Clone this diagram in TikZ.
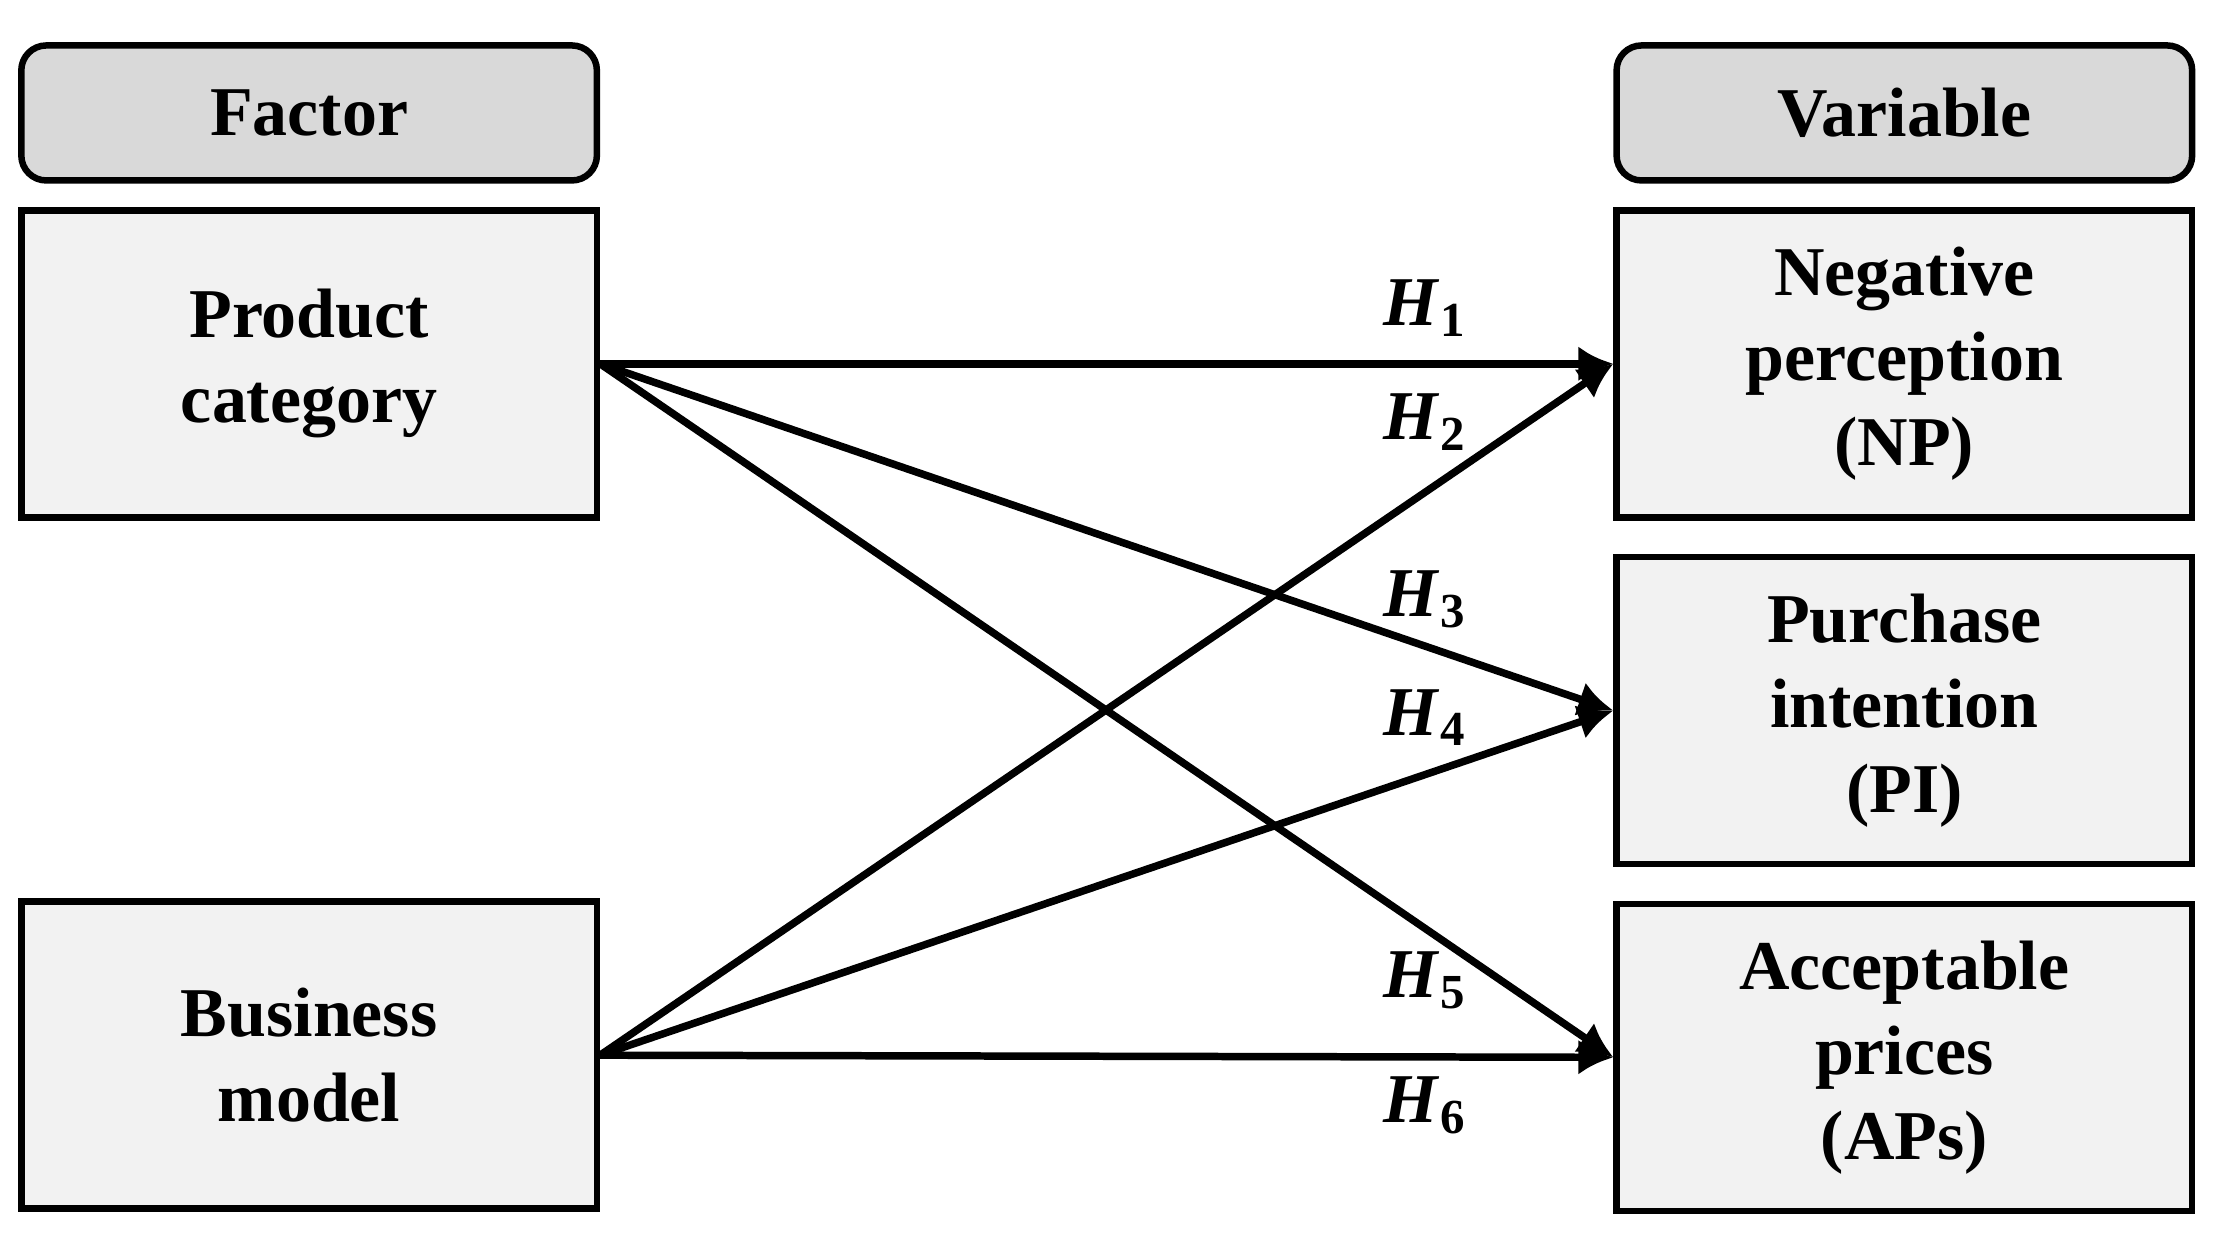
\documentclass[tikz,border=0pt]{standalone}
\usepackage{fontspec}
\setmainfont{Liberation Serif}
\usetikzlibrary{arrows.meta}
\tikzset{basic/.style={draw,line width=1.3pt,align=center,font=\fontsize{14}{17}\selectfont\bfseries,
                       minimum width=4.05cm,inner sep=0pt}}
\tikzset{header/.style={basic,rounded corners=5pt,fill=black!15,minimum height=0.95cm}}
\tikzset{block/.style={basic,fill=black!5,minimum height=2.16cm}}
\tikzset{link/.style={line width=1.5pt,-{Latex[length=7pt,width=7pt]}}}
\tikzset{hyp/.style={font=\fontsize{14}{15}\selectfont}}
\newcommand{\hyplabel}[1]{\textbf{\textit{H}}\textsubscript{\textbf{#1}}}
\begin{document}
\begin{tikzpicture}
    \useasboundingbox (0,0) rectangle (15.6,8.7);
    \node[header] (factor) at (2.175,7.905) {Factor};
    \node[header] (variable) at (13.40,7.905) {Variable};
    \node[block] (pc) at (2.175,6.14) {Product\\category};
    \node[block] (bm) at (2.175,1.275) {Business\\model};
    \node[block] (np) at (13.40,6.14) {Negative\\perception\\(NP)};
    \node[block] (pi) at (13.40,3.70) {Purchase\\intention\\(PI)};
    \node[block] (ap) at (13.40,1.26) {Acceptable\\prices\\(APs)};
    % connections
    \foreach \f in {pc,bm}{%
      \foreach \t in {np,pi,ap}{%
        \draw[link] (\f.east) -- (\t.west);
      }
    }
    % labels
    \node[hyp] (h1) at (10.03,6.53) {\hyplabel{1}};
    \node[hyp] (h2) at (10.03,5.73) {\hyplabel{2}};
    \node[hyp] (h3) at (10.03,4.48) {\hyplabel{3}};
    \node[hyp] (h4) at (10.03,3.65) {\hyplabel{4}};
    \node[hyp] (h5) at (10.03,1.80) {\hyplabel{5}};
    \node[hyp] (h6) at (10.03,0.92) {\hyplabel{6}};
\end{tikzpicture}
\end{document}
